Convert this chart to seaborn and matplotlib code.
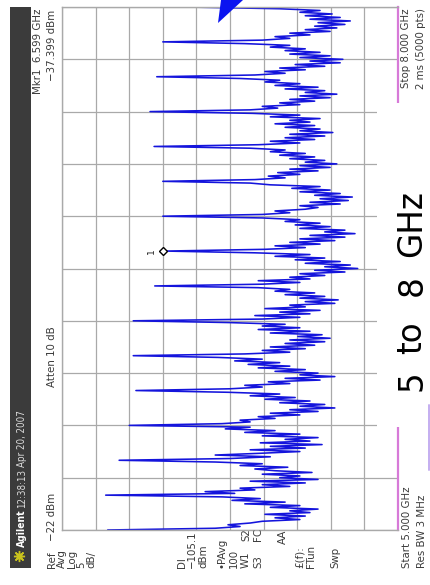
import numpy as np
import pandas as pd
import matplotlib
matplotlib.use("Agg")
import matplotlib.pyplot as plt
import matplotlib.transforms as mtransforms
from matplotlib.patches import Rectangle, Polygon
import seaborn as sns

# Sweep settings
start_ghz, stop_ghz = 5.0, 8.0
ref_dbm, db_per_div = -22.0, 5.0
step_ghz = 0.01

# Comb lines, one every 0.2 GHz
peak_ghz = [5.0, 5.2, 5.4, 5.6, 5.8, 6.0, 6.2, 6.4, 6.6, 6.8, 7.0, 7.2, 7.4, 7.6, 7.8, 8.0]
peak_dbm = [-28.8, -28.5, -30.5, -32.0, -33.0, -32.6, -32.6, -35.8,
            -37.4, -37.0, -37.0, -35.7, -35.1, -36.1, -37.0, -40.6]

# Noise floor between neighbouring comb lines (19 sweep points per band, low to high)
floor_dbm = [
    [-44.8, -48.5, -46.7, -50.0, -51.8, -57.4, -53.7, -58.2, -52.2, -58.9, -55.9, -60.1, -53.0, -57.4, -49.2, -55.2, -47.3, -51.5, -45.8],
    [-47.7, -43.3, -50.7, -48.5, -55.9, -51.8, -58.2, -50.0, -60.1, -54.4, -57.4, -51.8, -59.2, -53.7, -50.7, -55.6, -48.5, -51.8, -44.8],
    [-47.0, -53.0, -44.8, -51.5, -57.4, -50.0, -58.2, -53.0, -60.7, -51.5, -58.9, -55.2, -60.1, -51.8, -57.4, -49.2, -53.7, -46.3, -50.0],
    [-45.8, -50.0, -48.5, -53.7, -51.2, -57.4, -53.0, -60.1, -55.9, -62.6, -57.4, -61.1, -54.4, -58.9, -52.2, -56.7, -50.0, -54.4, -46.7],
    [-47.0, -51.8, -49.2, -55.9, -52.7, -60.4, -55.2, -62.6, -57.4, -60.1, -53.7, -58.2, -51.2, -55.9, -49.7, -54.4, -47.7, -51.8, -45.2],
    [-49.2, -55.9, -51.8, -58.2, -53.0, -59.6, -55.2, -61.1, -55.9, -61.9, -57.1, -60.7, -53.0, -58.9, -51.2, -57.4, -51.8, -55.2, -46.7],
    [-51.8, -57.4, -50.7, -58.9, -54.4, -60.4, -52.2, -58.2, -55.9, -62.6, -58.2, -63.1, -57.4, -61.1, -55.2, -59.6, -53.7, -55.9, -51.2],
    [-51.8, -57.4, -51.2, -58.9, -55.9, -61.1, -57.4, -64.1, -59.6, -66.0, -61.1, -64.9, -58.2, -63.4, -56.7, -61.1, -53.7, -58.9, -50.7],
    [-52.2, -58.2, -53.7, -60.4, -55.9, -62.6, -57.4, -64.1, -58.9, -65.6, -61.1, -64.1, -57.4, -61.9, -56.7, -60.4, -55.2, -57.4, -51.8],
    [-51.8, -55.9, -53.7, -58.2, -60.1, -57.4, -63.4, -58.9, -64.6, -60.4, -65.2, -59.6, -63.4, -57.4, -61.9, -56.2, -60.4, -53.0, -50.0],
    [-50.7, -55.2, -52.7, -57.4, -54.1, -60.1, -55.9, -61.9, -57.4, -62.9, -58.2, -61.1, -55.9, -59.6, -54.4, -58.2, -53.0, -55.2, -50.0],
    [-51.2, -57.4, -53.0, -59.6, -55.2, -61.1, -55.9, -62.3, -57.4, -60.4, -55.2, -59.6, -53.7, -58.9, -55.9, -60.4, -53.0, -57.4, -50.3],
    [-50.0, -54.1, -51.8, -57.4, -54.4, -59.6, -55.9, -61.9, -57.4, -62.9, -58.2, -61.1, -55.2, -60.1, -53.7, -57.4, -52.2, -54.4, -48.5],
    [-50.7, -55.2, -52.2, -58.2, -54.4, -61.1, -56.7, -63.4, -58.9, -63.8, -57.4, -61.9, -55.9, -60.4, -55.2, -58.2, -53.0, -55.9, -49.2],
    [-51.8, -55.9, -53.7, -58.9, -55.9, -61.9, -58.2, -62.9, -59.6, -64.1, -60.1, -64.9, -58.9, -63.4, -58.2, -62.2, -57.4, -60.4, -54.4],
]

marker_ghz = 6.599
marker_dbm = -37.399

# Assemble the swept trace: comb line, then the floor points up to the next line
levels = []
for k, band in enumerate(floor_dbm):
    levels.append(peak_dbm[k])
    levels.extend(band)
levels.append(peak_dbm[-1])
freq = np.round(start_ghz + step_ghz * np.arange(len(levels)), 3)
trace = pd.DataFrame({"freq_ghz": freq, "level_dbm": levels})

sns.set_theme(style="white")
plt.rcParams["font.family"] = ["DejaVu Sans"]

W, H = 430, 585
fig = plt.figure(figsize=(W / 100, H / 100), dpi=100)
fig.patch.set_facecolor("white")

# Graticule area (screen is turned on its side: level runs left to right)
x0, x1, y_top, y_bot = 62, 398, 7, 530
ax = fig.add_axes([x0 / W, (H - y_bot) / H, (x1 - x0) / W, (y_bot - y_top) / H])
ax.set_facecolor("white")
sns.lineplot(data=trace, x="level_dbm", y="freq_ghz", orient="y", sort=True,
             estimator=None, ax=ax, color="#1414dc", linewidth=1.15)
ax.set_xlim(ref_dbm, ref_dbm - 10 * db_per_div)
ax.set_ylim(start_ghz, stop_ghz)
ax.set_xticks(np.arange(ref_dbm, ref_dbm - 10 * db_per_div - 0.1, -db_per_div))
ax.set_yticks(np.linspace(start_ghz, stop_ghz, 11))
ax.set_xticklabels([])
ax.set_yticklabels([])
ax.set_xlabel("")
ax.set_ylabel("")
ax.tick_params(length=0)
ax.grid(True, color="#a9a9a9", linewidth=0.9)
ax.set_axisbelow(True)
for side in ("left", "top", "bottom"):
    ax.spines[side].set_color("#a9a9a9")
    ax.spines[side].set_linewidth(1.0)
ax.spines["right"].set_color("#d77ad8")
ax.spines["right"].set_linewidth(1.6)

# Marker 1
mk_tr = mtransforms.offset_copy(ax.transData, fig=fig, x=-2.5, y=0, units="dots")
ax.plot([marker_dbm], [marker_ghz], marker="D", ms=4.5, mfc="white", mec="black",
        mew=1.0, transform=mk_tr, zorder=5, clip_on=False)
ax.text(marker_dbm, marker_ghz, "1", transform=mtransforms.offset_copy(
    ax.transData, fig=fig, x=-14, y=0, units="dots"),
    rotation=90, rotation_mode="anchor", ha="center", va="center", fontsize=6.5, color="#222")

# Screen furniture drawn in pixel coordinates on top
ov = fig.add_axes([0, 0, 1, 1], zorder=5)
ov.set_xlim(0, W)
ov.set_ylim(H, 0)
ov.axis("off")
ov.patch.set_alpha(0)

ov.add_patch(Rectangle((10, 7), 21, 561, color="#3b3b3b", lw=0))
ov.add_patch(Rectangle((377, 103), 53, 324, color="white", lw=0))
ov.plot([429, 429], [405, 470], color="#c4aef0", lw=1.4)
ov.add_patch(Polygon([(218, 23), (221, 0), (243, 0)], closed=True, color="#0a14f0", lw=0))

# Sun badge in the title bar
ov.plot([19], [556], marker=(8, 2, 0), ms=8, color="#c9c21e", mew=1.0)
ov.plot([19], [556], marker="o", ms=3.5, color="#c9c21e")

ann = dict(rotation=90, rotation_mode="anchor", va="center",
           family="DejaVu Sans", stretch="condensed", fontsize=8.2, color="#3a3a3a")


def vtext(x, y, s, ha="left", **kw):
    opts = dict(ann)
    opts.update(kw)
    ov.text(x, y, s, ha=ha, **opts)


# Title bar
vtext(22, 547, "Agilent", color="white", fontweight="bold", fontsize=7.4)
vtext(22, 508, "12:38:13", color="#dcdcdc", fontsize=7.0)
vtext(22, 467, "Apr 20, 2007", color="#dcdcdc", fontsize=7.0)

# Marker readout
vtext(38, 8, "Mkr1  6.599 GHz", ha="right")
vtext(52, 10, "\u221237.399 dBm", ha="right")

# Reference and attenuation
vtext(52, 568, "Ref")
vtext(52, 541, "\u221222 dBm")
vtext(52, 387, "Atten 10 dB")

# Left annotation column
for xc, s in [(62, "Avg"), (72, "Log"), (81, "5"), (91, "dB/"),
              (182, "Dl"), (192, "\u2212105.1"), (203, "dBm"),
              (222, "\u2022PAvg"), (234, "100"), (300, "\u00a3(f):"),
              (311, "FTun"), (335, "Swp")]:
    vtext(xc, 568, s)
vtext(246, 568, "W1")
vtext(246, 541, "S2")
vtext(258, 568, "S3")
vtext(258, 541, "FC")
vtext(283, 530, "AA", ha="right")

# Frequency span annotations
vtext(407, 568, "Start 5.000 GHz")
vtext(422, 568, "Res BW 3 MHz")
vtext(406, 8, "Stop 8.000 GHz", ha="right")
vtext(421, 8, "2 ms (5000 pts)", ha="right")

# Band label
band = dict(rotation=90, rotation_mode="anchor", ha="center", va="baseline",
            fontsize=23.5, color="black", family="DejaVu Sans")
for yc, s in [(381, "5"), (338, "to"), (286, "8"), (224, "GHz")]:
    ov.text(421.5, yc, s, **band)

fig.savefig("out.png", dpi=100, facecolor="white")
